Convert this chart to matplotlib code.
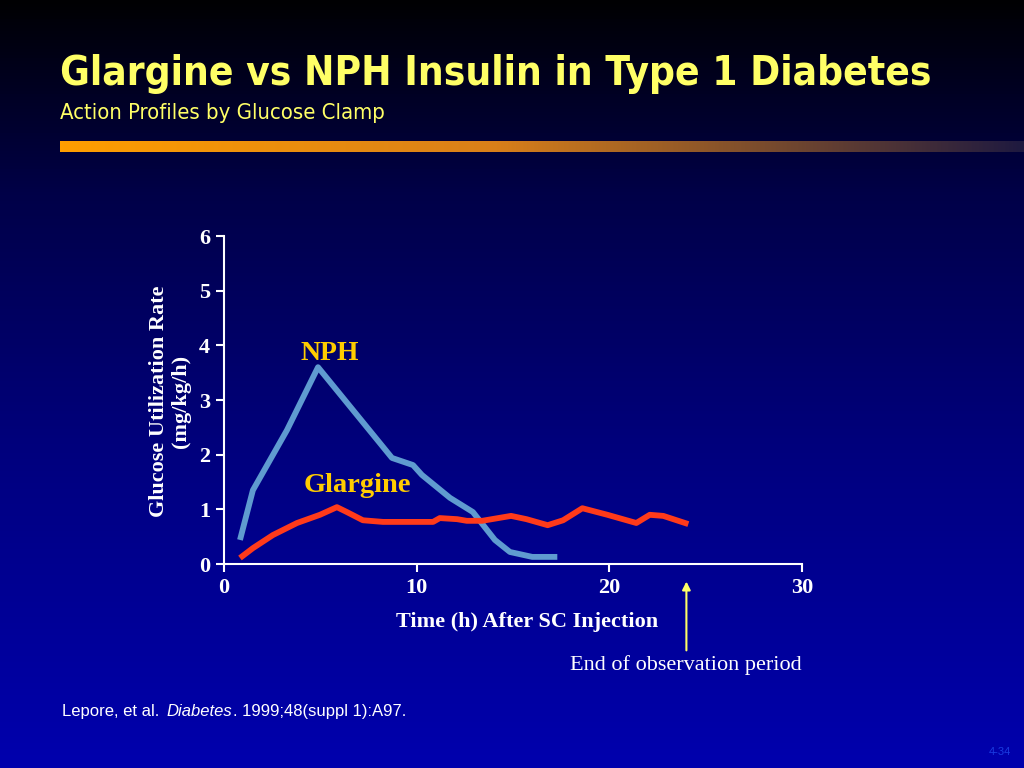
import numpy as np
import matplotlib
matplotlib.use("Agg")
import matplotlib.pyplot as plt
from matplotlib import font_manager as fm
from matplotlib.colors import LinearSegmentedColormap

# ---- data ----
nph_x = [0.83, 1.5, 3.27, 4.88, 8.72, 9.81, 10.27, 11.73, 12.92, 14.06, 14.84, 16.0, 17.3]
nph_y = [0.44, 1.35, 2.45, 3.6, 1.94, 1.81, 1.63, 1.21, 0.95, 0.44, 0.22, 0.13, 0.13]
gla_x = [0.83, 1.5, 2.54, 3.79, 4.98, 5.86, 6.38, 7.21, 8.25, 10.85, 11.2, 12.1, 12.6,
         13.4, 14.9, 15.7, 16.8, 17.6, 18.6, 19.9, 21.4, 22.1, 22.8, 24.1]
gla_y = [0.11, 0.29, 0.53, 0.75, 0.90, 1.04, 0.95, 0.80, 0.77, 0.77, 0.84, 0.82, 0.79,
         0.79, 0.88, 0.82, 0.71, 0.80, 1.02, 0.90, 0.75, 0.90, 0.88, 0.73]
x_ticks = [0, 10, 20, 30]
y_ticks = [0, 1, 2, 3, 4, 5, 6]
end_obs = 24.0

W, H = 1024, 768
fig = plt.figure(figsize=(W / 100, H / 100), dpi=100)
renderer = fig.canvas.get_renderer()


def find_narrow(bold):
    best = None
    for f in fm.fontManager.ttflist:
        nm = f.name.lower()
        st = str(f.stretch).lower()
        if ("narrow" in nm or "condensed" in nm or "condensed" in st) and "semi" not in st:
            w = f.weight
            try:
                w = int(w)
            except Exception:
                w = 700 if "bold" in str(w).lower() else 400
            isbold = w >= 600
            if isbold == bold and f.style == "normal":
                if best is None or "liberation" in nm:
                    best = f
    if best is not None:
        return fm.FontProperties(fname=best.fname)
    return fm.FontProperties(family=["Liberation Sans", "DejaVu Sans"],
                             weight="bold" if bold else "normal")


def fit_text(x, y, s, fp, width_px, **kw):
    fp = fp.copy()
    fp.set_size(20)
    t = fig.text(x, y, s, fontproperties=fp, **kw)
    w = t.get_window_extent(renderer).width
    fp.set_size(20 * width_px / w)
    t.set_fontproperties(fp)
    return t


# background gradient
bg = fig.add_axes([0, 0, 1, 1])
bg.set_axis_off()
cmap = LinearSegmentedColormap.from_list(
    "bgc", [(0.0, (0, 0, 0.01)), (0.25, (0, 0, 0.28)), (0.6, (0, 0, 0.5)), (1.0, (0, 0, 0.68))])
grad = np.linspace(0, 1, 256).reshape(-1, 1)
bg.imshow(grad, aspect="auto", cmap=cmap, extent=[0, 1, 0, 1], origin="upper")
bar_cmap = LinearSegmentedColormap.from_list(
    "bar", [(0, (1.0, 0.62, 0.0)), (0.45, (0.85, 0.5, 0.1)), (1.0, (0.12, 0.1, 0.25))])
bar = np.linspace(0, 1, 512).reshape(1, -1)
bg.imshow(bar, aspect="auto", cmap=bar_cmap,
          extent=[60 / W, 1.0, 1 - 152 / H, 1 - 141 / H])
bg.set_xlim(0, 1)
bg.set_ylim(0, 1)

serif = ["Liberation Serif", "DejaVu Serif"]

fit_text(60 / W, 1 - 85 / H, "Glargine vs NPH Insulin in Type 1 Diabetes",
         find_narrow(True), 872, color="#ffff66", ha="left", va="baseline")
fit_text(60 / W, 1 - 119 / H, "Action Profiles by Glucose Clamp",
         find_narrow(False), 326, color="#ffff66", ha="left", va="baseline")

# main axes
ax = fig.add_axes([224 / W, 1 - 564 / H, (802 - 224) / W, (564 - 236) / H])
ax.patch.set_alpha(0)
ax.plot(nph_x, nph_y, color="#5f9bd0", lw=4.2, solid_capstyle="butt")
ax.plot(gla_x, gla_y, color="#ff3a1a", lw=4.2, solid_capstyle="butt")
ax.set_xlim(0, 30)
ax.set_ylim(0, 6)
ax.set_xticks(x_ticks)
ax.set_yticks(y_ticks)
for s in ["top", "right"]:
    ax.spines[s].set_visible(False)
for s in ["left", "bottom"]:
    ax.spines[s].set_color("white")
    ax.spines[s].set_linewidth(1.5)
ax.tick_params(colors="white", width=1.5, length=6, direction="out", pad=4)
for lab in ax.get_xticklabels() + ax.get_yticklabels():
    lab.set_family(serif)
    lab.set_fontweight("bold")
    lab.set_fontsize(16)
    lab.set_color("white")

ax.text(5.5, 3.85, "NPH", family=serif, fontweight="bold", fontsize=20,
        color="#ffcc00", ha="center", va="center")
ax.text(6.9, 1.43, "Glargine", family=serif, fontweight="bold", fontsize=20.5,
        color="#ffcc00", ha="center", va="center")

fig.text(170 / W, 1 - 401 / H, "Glucose Utilization Rate\n(mg/kg/h)", rotation=90,
         family=serif, fontweight="bold", fontsize=16, color="white",
         ha="center", va="center", linespacing=1.2)
fig.text(527 / W, 1 - 622 / H, "Time (h) After SC Injection", family=serif,
         fontweight="bold", fontsize=16, color="white", ha="center", va="center")

ax.annotate("", xy=(end_obs, -0.32), xycoords="data",
            xytext=(end_obs, -1.58), textcoords="data",
            arrowprops=dict(arrowstyle="-|>", color="#ffff66", lw=1.5,
                            mutation_scale=12, shrinkA=0, shrinkB=0),
            annotation_clip=False)
fig.text(686 / W, 1 - 665 / H, "End of observation period", family=serif,
         fontsize=16, color="white", ha="center", va="center")

# citation, pieces chained by measured width
sans = ["Liberation Sans", "DejaVu Sans"]
xpos = 62
for piece, style in [("Lepore, et al. ", "normal"), ("Diabetes", "italic"),
                     (". 1999;48(suppl 1):A97.", "normal")]:
    t = fig.text(xpos / W, 1 - 716 / H, piece, family=sans, fontsize=12, style=style,
                 color="white", ha="left", va="baseline")
    xpos += t.get_window_extent(renderer).width
    if piece.endswith(" "):
        xpos += 3

fig.text(1000 / W, 1 - 752 / H, "4-34", family=sans,
         fontsize=8, color="#1a3be0", ha="center", va="center")

fig.savefig("out.png", dpi=100)
